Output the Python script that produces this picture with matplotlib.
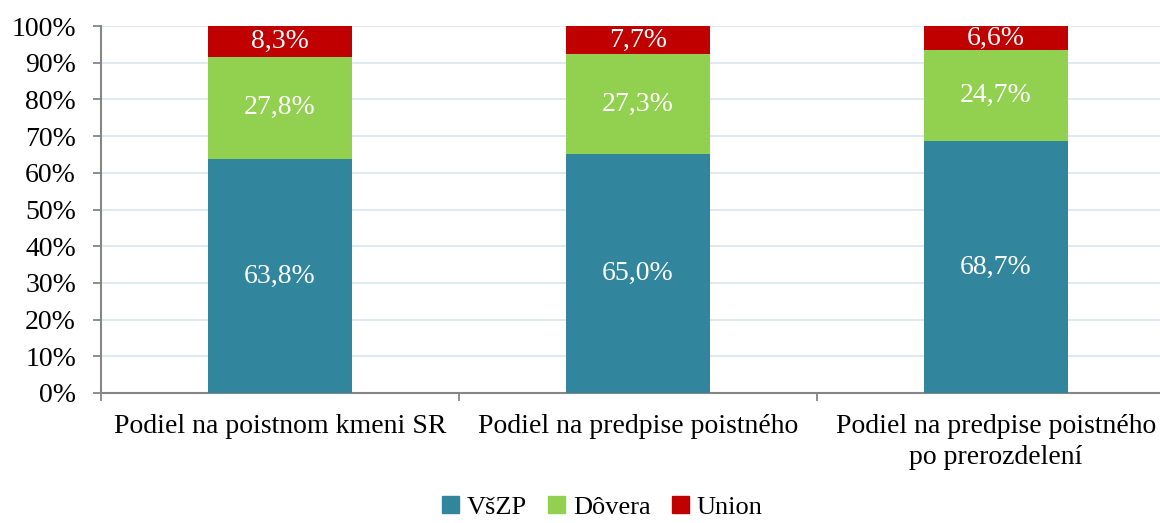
import numpy as np
import matplotlib.pyplot as plt
from matplotlib.patches import Patch

categories = ['Podiel na poistnom kmeni SR', 'Podiel na predpise poistného',
              'Podiel na predpise poistného\npo prerozdelení']
series_names = ['VšZP', 'Dôvera', 'Union']
vszp = [63.8, 65.0, 68.7]
dovera = [27.8, 27.3, 24.7]
union = [8.3, 7.7, 6.6]
colors = ['#31859C', '#92D050', '#C00000']

plt.rcParams['font.family'] = ['Liberation Serif', 'DejaVu Serif']

W, H = 1160, 523
fig = plt.figure(figsize=(W / 100, H / 100), dpi=100)
# plot area runs past the right edge of the picture, like the reference crop
ax = fig.add_axes([101 / W, 130 / H, 1074 / W, 367 / H])

x = np.arange(len(categories))
values = [vszp, dovera, union]
bottom = np.zeros(len(categories))
for name, vals, c in zip(series_names, values, colors):
    vals = np.array(vals)
    ax.bar(x, vals, width=0.4, bottom=bottom, color=c, zorder=3)
    for xi, b, v in zip(x, bottom, vals):
        ax.text(xi, b + v / 2, f'{v:.1f}%'.replace('.', ','), ha='center',
                va='center', color='white', fontsize=20, zorder=4)
    bottom += vals

ax.set_xlim(-0.5, len(categories) - 0.5)
ax.set_ylim(0, 100)
ax.set_yticks(np.arange(0, 101, 10))
ax.set_yticklabels([f'{t}%' for t in range(0, 101, 10)], fontsize=20)
ax.yaxis.grid(True, color='#DCE6F2', linewidth=1.3, zorder=0)
ax.set_axisbelow(True)

ax.set_xticks(np.arange(-0.5, len(categories), 1))
ax.set_xticklabels([])
ax.set_xticks(x, minor=True)
ax.set_xticklabels(categories, minor=True, fontsize=20, linespacing=1.3)
ax.tick_params(axis='x', which='minor', length=0, pad=15)
ax.tick_params(axis='x', which='major', length=6, color='#868686', width=1.3)
ax.tick_params(axis='y', length=6, color='#868686', width=1.3, pad=12)

for s in ['top', 'right']:
    ax.spines[s].set_visible(False)
for s in ['left', 'bottom']:
    ax.spines[s].set_color('#868686')
    ax.spines[s].set_linewidth(1.5)

handles = [Patch(color=c, label=n) for n, c in zip(series_names, colors)]
fig.legend(handles=handles, loc='center', bbox_to_anchor=(0.519, 0.03),
           ncol=3, frameon=False, fontsize=19, handlelength=0.65,
           handleheight=0.65, handletextpad=0.3, columnspacing=0.8,
           borderpad=0.2)

fig.savefig('out.png', dpi=100)
